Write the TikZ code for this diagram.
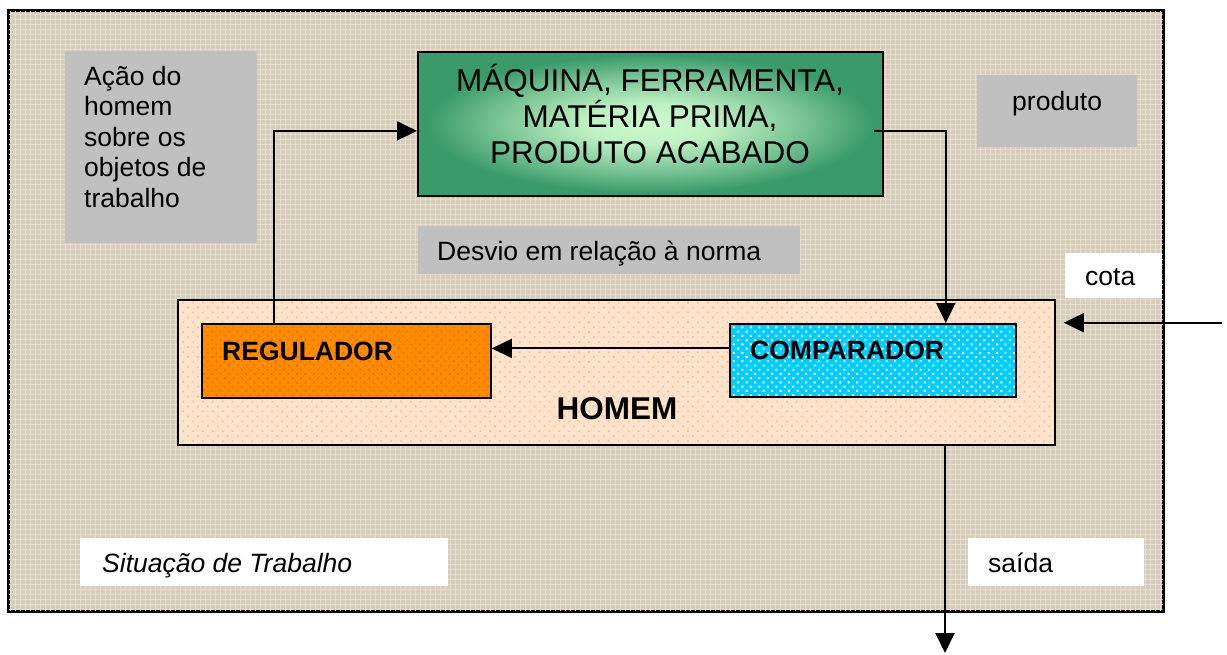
\documentclass[tikz,border=0pt]{standalone}
\usepackage{fontspec}
\setmainfont{Liberation Sans}
\usetikzlibrary{arrows.meta,patterns,patterns.meta}

\definecolor{bg}{RGB}{214,204,185}
\definecolor{bgline}{RGB}{230,223,209}
\definecolor{graybox}{RGB}{192,192,192}
\definecolor{peach}{RGB}{253,226,204}
\definecolor{peachdot}{RGB}{250,190,140}
\definecolor{orng}{RGB}{255,140,0}
\definecolor{orngdot}{RGB}{240,100,0}
\definecolor{cyanb}{RGB}{0,204,255}
\definecolor{greenout}{RGB}{58,154,106}
\definecolor{greenin}{RGB}{205,250,205}
\pgfdeclareradialshading{greenglow}{\pgfpoint{0bp}{0bp}}{color(0bp)=(greenin); color(7bp)=(greenin!90!greenout); color(17bp)=(greenin!40!greenout); color(24bp)=(greenout); color(50bp)=(greenout)}

\begin{document}
\begin{tikzpicture}[x=1pt,y=-1pt,
  box/.style={draw=black, line width=1.8pt, anchor=north west, inner sep=0pt},
  flat/.style={anchor=north west, inner sep=0pt, draw=none},
  txt/.style={inner sep=0pt, font=\fontsize{26.5}{30.5}\selectfont, align=left, anchor=base west},
  btxt/.style={inner sep=0pt, font=\fontsize{26.5}{30.5}\selectfont\bfseries, anchor=base west},
  arr/.style={-{Triangle[length=20pt,width=19pt]}, line width=2pt},
  ln/.style={line width=1.8pt}]

\useasboundingbox (0,0) rectangle (1227,654);

% outer frame with texture
\node[box, fill=bg, minimum width=1154, minimum height=600,
      postaction={pattern={Hatch[distance=5pt, angle=0, line width=0.7pt]}, pattern color=bgline}] (frame) at (8,10) {};
\draw[ln] (frame.north west) rectangle (frame.south east);

% gray boxes
\node[flat, fill=graybox, minimum width=192, minimum height=192] (acaobox) at (65,51) {};
\node[txt] (acao) at (84,207) {Ação do\\homem\\sobre os\\objetos de\\trabalho};

\node[flat, fill=graybox, minimum width=160, minimum height=72] (prodbox) at (977,75) {};
\node[txt] (prod) at (1012,110) {produto};

\node[flat, fill=graybox, minimum width=382, minimum height=48] (desviobox) at (418,226) {};
\node[txt] (desvio) at (437,260) {Desvio em relação à norma};

% white boxes
\node[flat, fill=white, minimum width=97, minimum height=45] (cotabox) at (1065,253) {};
\node[txt] (cota) at (1085,285) {cota};

\node[flat, fill=white, minimum width=368, minimum height=48] (sitbox) at (80,538) {};
\node[txt, font=\fontsize{26.5}{30.5}\selectfont\itshape] (sit) at (102,572) {Situação de Trabalho};

\node[flat, fill=white, minimum width=176, minimum height=48] (saidabox) at (968,538) {};
\node[txt] (saida) at (988,572) {saída};

% green box
\node[box, shading=greenglow, minimum width=465, minimum height=144] (maq) at (417,51) {};
\node[inner sep=0pt, font=\fontsize{31.5}{36}\selectfont, align=center, anchor=base] (maqtxt) at (650,163.7)
  {MÁQUINA, FERRAMENTA,\\MATÉRIA PRIMA,\\PRODUTO ACABADO};

% homem
\node[box, preaction={fill=peach}, pattern={Dots[radius=1.1pt,distance=7pt,angle=45]}, pattern color=peachdot,
      minimum width=877, minimum height=145] (homem) at (177,299) {};
\node[inner sep=0pt, font=\fontsize{31.5}{36}\selectfont\bfseries, anchor=base] (homemtxt) at (617,419) {HOMEM};

% regulador
\node[box, preaction={fill=orng}, pattern={Dots[radius=1.1pt,distance=6pt,angle=45]}, pattern color=orngdot,
      minimum width=289, minimum height=74] (reg) at (201,323) {};
\node[btxt] (regtxt) at (222,360) {REGULADOR};

% comparador
\node[box, preaction={fill=cyanb}, pattern={Dots[radius=1.4pt,distance=6pt,angle=45]}, pattern color=white,
      minimum width=286, minimum height=73] (comp) at (729,323) {};
\node[btxt] (comptxt) at (750,359) {COMPARADOR};

% connectors
\draw[arr] ([xshift=72.5pt]reg.north west) |- ([yshift=-7pt]maq.west);
\draw[arr] ([xshift=-10pt,yshift=-7pt]maq.east) -| ([xshift=-71pt]comp.north east);
\draw[arr] ([yshift=12pt]comp.west) -- ([yshift=12pt]comp.west -| reg.east);
\coordinate (cotain) at (1222,322.7);
\draw[arr] (cotain) -- ([xshift=8pt]cotain -| homem.east);
\coordinate (saidaout) at (945,653);
\draw[arr] (saidaout |- homem.south) -- (saidaout);
\end{tikzpicture}
\end{document}
